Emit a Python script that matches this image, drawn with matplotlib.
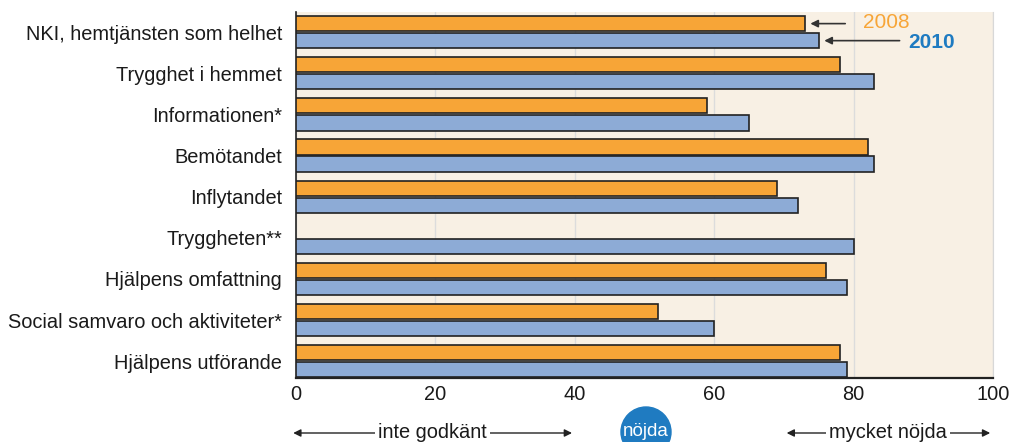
import numpy as np
import matplotlib.pyplot as plt
from matplotlib.patches import Ellipse
from matplotlib.transforms import IdentityTransform

plt.rcParams['font.family'] = ['Liberation Sans', 'DejaVu Sans']

# Data
categories = ['NKI, hemtjänsten som helhet', 'Trygghet i hemmet', 'Informationen*',
              'Bemötandet', 'Inflytandet', 'Tryggheten**', 'Hjälpens omfattning',
              'Social samvaro och aktiviteter*', 'Hjälpens utförande']
values_2008 = [73, 78, 59, 82, 69, np.nan, 76, 52, 78]
values_2010 = [75, 83, 65, 83, 72, 80, 79, 60, 79]
x_ticks = [0, 20, 40, 60, 80, 100]

orange = '#f7a537'
blue = '#8dabd6'
dark_blue = '#1f7bc1'

fig = plt.figure(figsize=(10.12, 4.42), dpi=100)
ax = fig.add_axes([0.2925, 0.1448, 0.6887, 0.8281])
ax.set_facecolor('#f8f0e4')

y = np.arange(len(categories))
h = 0.37
off = 0.207
ax.barh(y - off, values_2008, height=h, color=orange, edgecolor='#222222', linewidth=1.2, zorder=3)
ax.barh(y + off, values_2010, height=h, color=blue, edgecolor='#222222', linewidth=1.2, zorder=3)

ax.set_xlim(0, 100)
ax.set_ylim(8.41, -0.49)
ax.set_yticks(y)
ax.set_yticklabels(categories, fontsize=14.4, color='#1a1a1a')
ax.set_xticks(x_ticks)
ax.set_xticklabels([str(t) for t in x_ticks], fontsize=14.4, color='#1a1a1a')
ax.tick_params(length=0, pad=5)
ax.tick_params(axis='y', pad=10)

ax.grid(axis='x', color='#dcdcdc', linewidth=1, zorder=0)
ax.spines['top'].set_visible(False)
ax.spines['right'].set_color('#d8d8d8')
ax.spines['left'].set_color('#222222')
ax.spines['left'].set_linewidth(1.2)
ax.spines['bottom'].set_color('#222222')
ax.spines['bottom'].set_linewidth(1.6)

# legend arrows
ax.annotate('', xy=(values_2008[0] + 0.4, 0 - off), xytext=(79.2, 0 - off),
            arrowprops=dict(arrowstyle='-|>', color='#333333', lw=1.2, mutation_scale=11), zorder=4)
ax.annotate('', xy=(values_2010[0] + 0.4, 0 + off), xytext=(87.0, 0 + off),
            arrowprops=dict(arrowstyle='-|>', color='#333333', lw=1.2, mutation_scale=11), zorder=4)
ax.text(81.4, 0 - off - 0.02, '2008', color=orange, fontsize=15, va='center', ha='left', zorder=4)
ax.text(87.8, 0 + off + 0.05, '2010', color=dark_blue, fontsize=15, fontweight='bold',
        va='center', ha='left', zorder=4)

# scale annotations below the axis
ypix = 442 - 433
for x0, x1, label in [(-0.8, 40, 'inte godkänt'), (70, 100, 'mycket nöjda')]:
    ax.annotate('', xy=(x0, ypix), xytext=(x1, ypix), xycoords=('data', 'figure pixels'),
                textcoords=('data', 'figure pixels'),
                arrowprops=dict(arrowstyle='<|-|>', color='#222222', lw=1.0, mutation_scale=11),
                annotation_clip=False)
    ax.annotate(label, xy=((x0 + x1) / 2, ypix), xycoords=('data', 'figure pixels'),
                ha='center', va='center', fontsize=14.4, color='#1a1a1a',
                bbox=dict(boxstyle='square,pad=0.15', fc='white', ec='none'),
                annotation_clip=False)

circle = Ellipse((646, 442 - 432), 50, 50, transform=IdentityTransform(), color=dark_blue,
                 clip_on=False)
fig.patches.append(circle)
fig.text(646 / 1012, (442 - 431) / 442, 'nöjda', color='white', fontsize=13.5,
         ha='center', va='center')

fig.savefig('out.png', dpi=100)
